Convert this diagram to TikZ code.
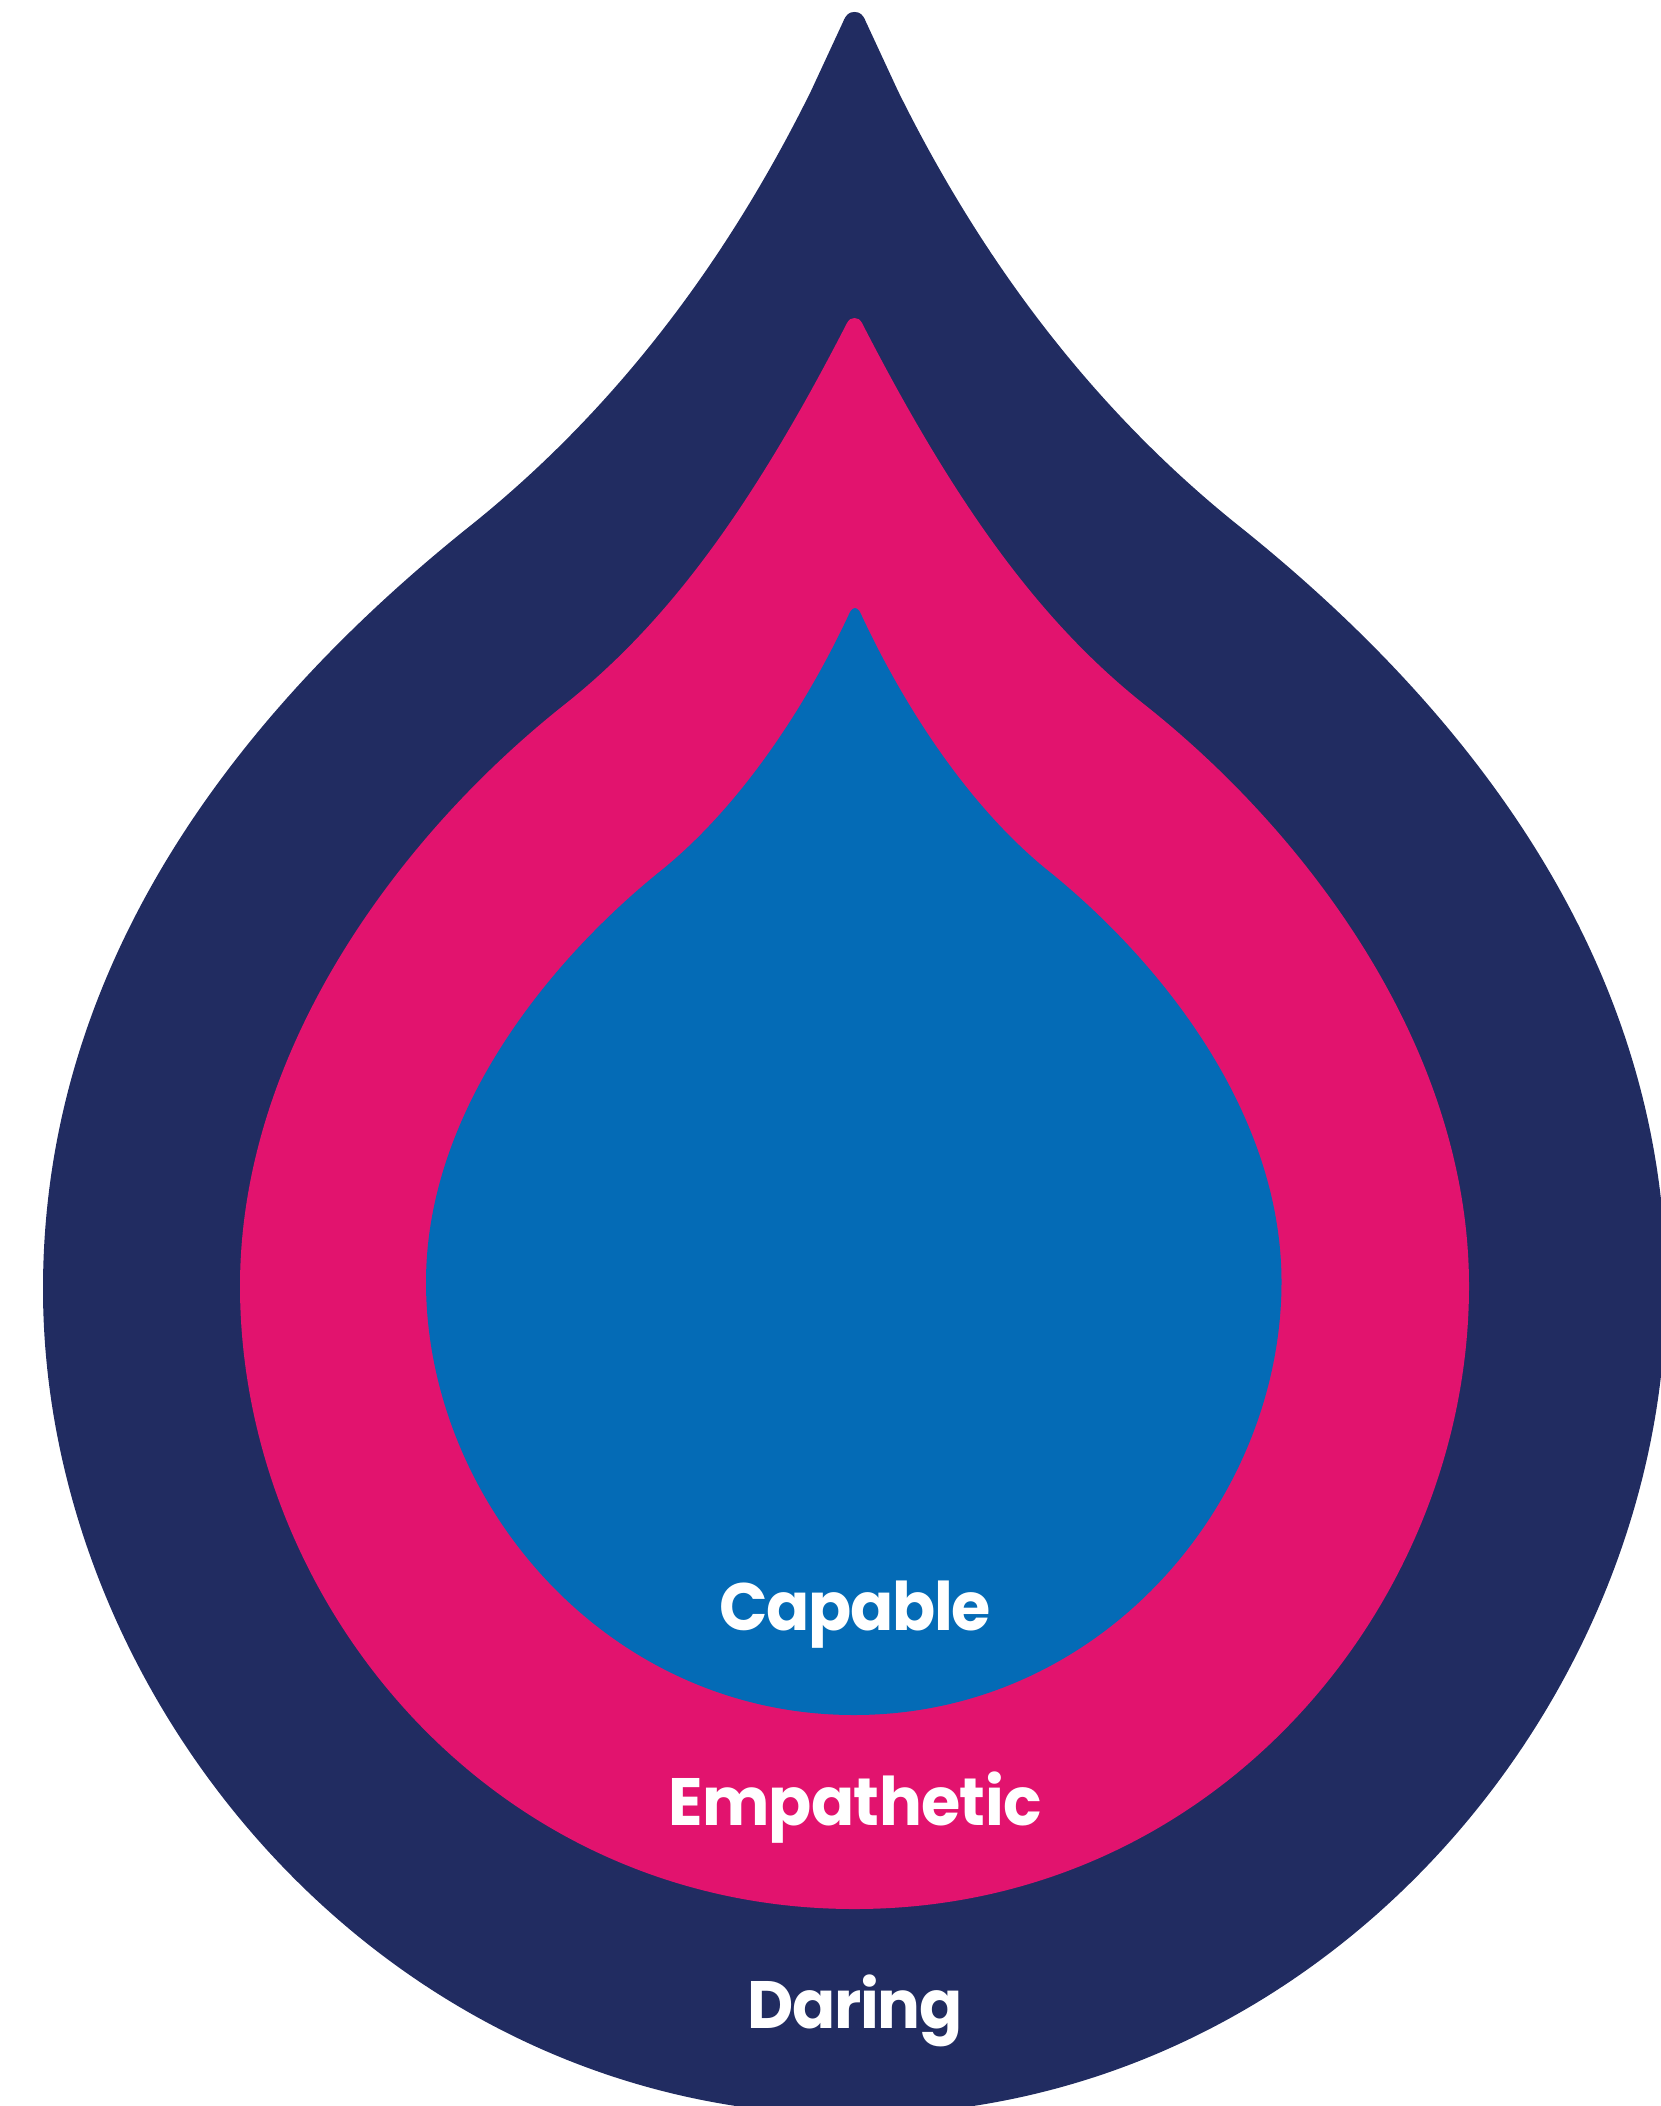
\documentclass[tikz,border=0pt]{standalone}
\usepackage{fontspec}
\setmainfont{Poppins}[BoldFont=Poppins Bold]
\definecolor{navy}{HTML}{212C61}
\definecolor{pinkc}{HTML}{E2136E}
\definecolor{bluec}{HTML}{046BB6}
\tikzset{
  droplabel/.style={text=white,anchor=base,inner sep=0pt,font=\fontsize{67}{67}\selectfont\bfseries\addfontfeature{FakeStretch=0.95,LetterSpace=#1}}
}
\begin{document}
\begin{tikzpicture}[x=1pt,y=-1pt]
\useasboundingbox (0,0) rectangle (1661,2106);
\clip (0,0) rectangle (1661,2106);
% outer
\fill[navy] (43,1289)
  .. controls (43,950) and (255,698) .. (470,526)
  .. controls (620,406) and (730,255) .. (811,91)
  -- (843,22) .. controls (846,14.5) and (849,12) .. (854.5,12)
  .. controls (860,12) and (863,14.5) .. (866,22)
  -- (898,91)
  .. controls (979,255) and (1089,406) .. (1239,526)
  .. controls (1454,698) and (1666,950) .. (1666,1289)
  .. controls (1666,1700) and (1324,2115) .. (854.5,2115)
  .. controls (385,2115) and (43,1700) .. (43,1289) -- cycle;
% middle
\fill[pinkc] (240,1286)
  .. controls (240,1050) and (400,835) .. (564,705)
  .. controls (665,625) and (750,512) .. (847,323)
  .. controls (849,319.5) and (851,318) .. (854.5,318)
  .. controls (858,318) and (860,319.5) .. (862,323)
  .. controls (959,512) and (1044,625) .. (1145,705)
  .. controls (1309,835) and (1469,1050) .. (1469,1286)
  .. controls (1469,1600) and (1219,1909) .. (854.5,1909)
  .. controls (490,1909) and (240,1600) .. (240,1286) -- cycle;
% inner
\fill[bluec] (426,1282)
  .. controls (426,1115) and (545,965) .. (658,873)
  .. controls (740,808) and (807,705) .. (850,612)
  .. controls (852,609) and (853.5,608) .. (855,608)
  .. controls (856.5,608) and (858,609) .. (860,612)
  .. controls (903,705) and (969,808) .. (1051,873)
  .. controls (1164,965) and (1281.5,1115) .. (1281.5,1282)
  .. controls (1281.5,1500) and (1103,1715) .. (854,1715)
  .. controls (605,1715) and (426,1500) .. (426,1282) -- cycle;
\node[droplabel=-2] (capable) at (855,1630) {Capable};
\node[droplabel=-1] (empathetic) at (855,1825) {Empathetic};
\node[droplabel=-2] (daring) at (855,2028) {Daring};
\end{tikzpicture}
\end{document}
